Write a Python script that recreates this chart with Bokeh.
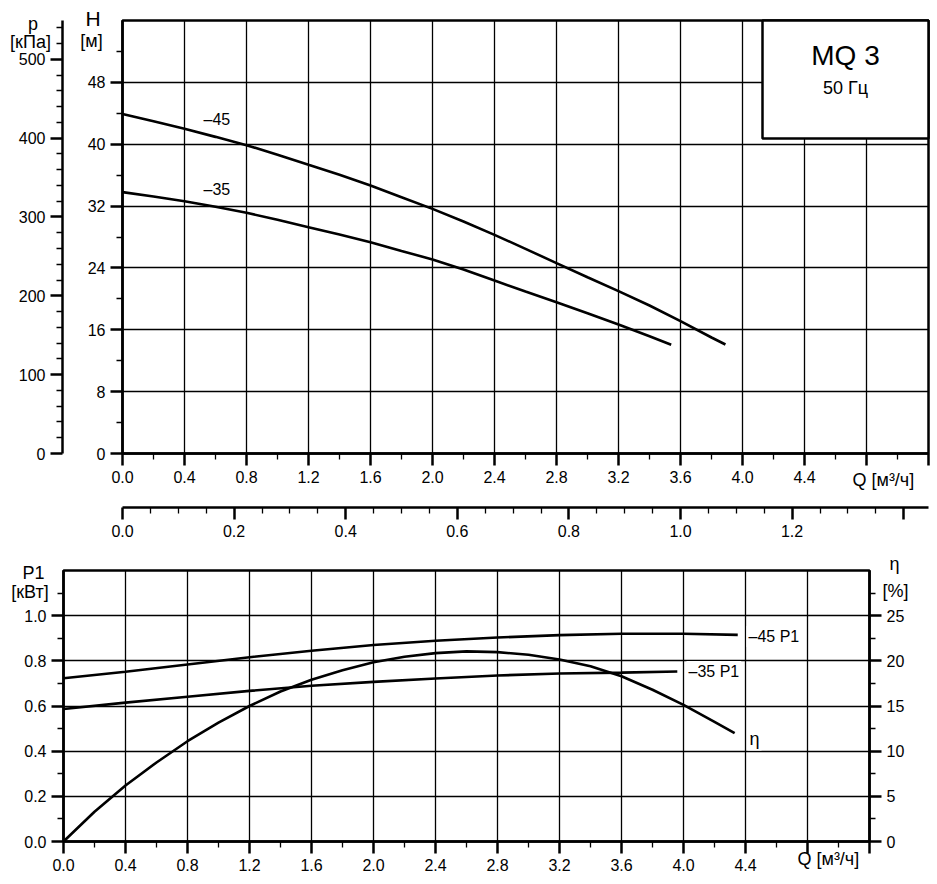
from bokeh.plotting import figure
from bokeh.models import (Range1d, LinearAxis, FixedTicker, Label, BoxAnnotation,
                          NumeralTickFormatter, Grid)
from bokeh.embed import file_html
from bokeh.resources import INLINE

# ---------------- data ----------------
# Top chart: head H [m] vs flow Q [m3/h]
q_h45 = [0.0, 0.2, 0.4, 0.6, 0.8, 1.0, 1.2, 1.4, 1.6, 1.8, 2.0, 2.2, 2.4, 2.6, 2.8,
         3.0, 3.2, 3.4, 3.6, 3.8, 3.89]
h_45 = [43.9, 42.98, 41.99, 40.95, 39.88, 38.63, 37.33, 36.04, 34.66, 33.15, 31.64,
        30.0, 28.28, 26.47, 24.62, 22.8, 21.0, 19.14, 17.11, 15.0, 14.1]
q_h35 = [0.0, 0.2, 0.4, 0.6, 0.8, 1.0, 1.2, 1.4, 1.6, 1.8, 2.0, 2.2, 2.4, 2.6, 2.8,
         3.0, 3.2, 3.4, 3.54]
h_35 = [33.8, 33.24, 32.63, 31.9, 31.13, 30.22, 29.27, 28.32, 27.33, 26.2, 25.09,
        23.8, 22.37, 20.95, 19.57, 18.15, 16.68, 15.17, 14.06]

# Bottom chart: power P1 [kW] and efficiency eta [%]
q_p45 = [0.0, 0.4, 0.8, 1.2, 1.6, 2.0, 2.4, 2.8, 3.2, 3.6, 4.0, 4.35]
p1_45 = [0.723, 0.752, 0.784, 0.816, 0.845, 0.870, 0.889, 0.903, 0.914, 0.920, 0.920, 0.915]
q_p35 = [0.0, 0.4, 0.8, 1.2, 1.6, 2.0, 2.4, 2.8, 3.2, 3.6, 3.96]
p1_35 = [0.587, 0.615, 0.641, 0.667, 0.690, 0.707, 0.722, 0.735, 0.744, 0.748, 0.753]
q_eta = [0.0, 0.2, 0.4, 0.6, 0.8, 1.0, 1.2, 1.4, 1.6, 1.8, 2.0, 2.2, 2.4, 2.6, 2.8,
         3.0, 3.2, 3.4, 3.6, 3.8, 4.0, 4.2, 4.33]
eta = [0.0, 3.3, 6.2, 8.75, 11.1, 13.15, 15.0, 16.6, 17.9, 18.95, 19.85, 20.45, 20.85,
       21.05, 20.96, 20.67, 20.15, 19.4, 18.3, 16.8, 15.13, 13.25, 12.0]

# Axis extents and ticks
Q_MAX = 5.2
H_MAX = 56
P1_MAX = 1.2
ETA_MAX = 30
q_major = [round(0.4 * i, 1) for i in range(14)]            # 0.0 .. 5.2
q_minor = [round(0.2 + 0.4 * i, 1) for i in range(13)]      # 0.2 .. 5.0
q_grid = [round(0.4 * i, 1) for i in range(1, 13)]          # 0.4 .. 4.8
q_blank = [4.8, 5.2]
ls_major = [round(0.2 * i, 1) for i in range(8)]            # 0.0 .. 1.4
ls_minor = [round(0.05 * i, 2) for i in range(29) if i % 4 != 0]
ls_blank = [1.4]
h_major = [0, 8, 16, 24, 32, 40, 48]
h_minor = [4, 12, 20, 28, 36, 44, 52]
kpa_major = [0, 100, 200, 300, 400, 500]
kpa_minor = [v for v in range(20, 560, 20) if v % 100 != 0]
p1_major = [0.0, 0.2, 0.4, 0.6, 0.8, 1.0]
p1_minor = [0.1, 0.3, 0.5, 0.7, 0.9, 1.1]
p1_grid = [0.2, 0.4, 0.6, 0.8, 1.0]
eta_major = [0, 5, 10, 15, 20, 25]
eta_minor = [2.5, 7.5, 12.5, 17.5, 22.5, 27.5]

FONT = "Liberation Sans"
K = "black"
KPA_PER_M = 9.80665
M3H_PER_LS = 3.6

# ---------------- page geometry (pixels) ----------------
W, HT = 936, 883
TOP_L, TOP_R, TOP_T, TOP_B = 122, 928, 20, 453     # top chart frame
BOT_L, BOT_R, BOT_T, BOT_B = 63, 869, 570, 841     # bottom chart frame
LS_AXIS_Y = 507                                     # l/s axis line
KPA_AXIS_X = 62                                     # kPa axis line

tq_k = (TOP_R - TOP_L) / Q_MAX
th_k = (TOP_B - TOP_T) / H_MAX
bq_k = (BOT_R - BOT_L) / Q_MAX
bp_k = (BOT_B - BOT_T) / P1_MAX


def tq(px): return (px - TOP_L) / tq_k
def th(py): return (TOP_B - py) / th_k
def bq(px): return (px - BOT_L) / bq_k
def bp(py): return (BOT_B - py) / bp_k


p = figure(width=W, height=HT, title=None,
           x_range=Range1d(tq(0), tq(W)), y_range=Range1d(th(HT), th(0)),
           output_backend="svg", toolbar_location=None,
           x_axis_location=None, y_axis_location=None, min_border=0,
           outline_line_color=None, background_fill_color="white", border_fill_color="white")
p.extra_x_ranges = {"qb": Range1d(bq(0), bq(W)),
                    "ls": Range1d(tq(0) / M3H_PER_LS, tq(W) / M3H_PER_LS)}
p.extra_y_ranges = {"kpa": Range1d(th(HT) * KPA_PER_M, th(0) * KPA_PER_M),
                    "p1": Range1d(bp(HT), bp(0)),
                    "eta": Range1d(bp(HT) * ETA_MAX / P1_MAX, bp(0) * ETA_MAX / P1_MAX)}
for g in p.xgrid + p.ygrid:
    g.visible = False


def styled_axis(**kw):
    ax = LinearAxis(**kw)
    ax.axis_line_color = K
    ax.axis_line_width = 2.5
    ax.major_tick_line_color = K
    ax.major_tick_line_width = 2.5
    ax.major_tick_out = 12
    ax.major_tick_in = 0
    ax.minor_tick_line_color = K
    ax.minor_tick_line_width = 1.3
    ax.minor_tick_out = 6
    ax.minor_tick_in = 0
    ax.major_label_text_font = FONT
    ax.major_label_text_font_size = "16px"
    ax.major_label_text_color = K
    ax.major_label_standoff = 5
    return ax


def add_grid(dim, ticks, cross, **kw):
    g = Grid(dimension=dim, ticker=FixedTicker(ticks=ticks), cross_bounds=cross,
             grid_line_color=K, grid_line_width=1.3, **kw)
    p.add_layout(g)


def add_text(x, y, text, size, align="left", baseline="middle", bg=False, **kw):
    lab = Label(x=x, y=y, text=text, text_font=FONT, text_font_size=size,
                text_align=align, text_baseline=baseline, text_color=K, **kw)
    if bg:
        lab.background_fill_color = "white"
        lab.padding = 2
    p.add_layout(lab)


def frame_box(left, right, bottom, top, fill=False, **kw):
    p.add_layout(BoxAnnotation(left=left, right=right, bottom=bottom, top=top,
                               fill_color="white", fill_alpha=1.0 if fill else 0.0,
                               line_color=K, line_alpha=1.0, line_width=2.5, **kw))


# ---------------- top chart ----------------
add_grid(0, q_grid, (0, H_MAX))
add_grid(1, h_major[1:], (0, Q_MAX))

p.line(q_h45, h_45, line_color=K, line_width=2.6)
p.line(q_h35, h_35, line_color=K, line_width=2.6)

qax = styled_axis(fixed_location=0, bounds=(0, Q_MAX),
                  ticker=FixedTicker(ticks=q_major, minor_ticks=q_minor),
                  formatter=NumeralTickFormatter(format="0.0"))
qax.major_label_overrides = {v: "" for v in q_blank}
p.add_layout(qax, "below")

lsax = styled_axis(x_range_name="ls", fixed_location=th(LS_AXIS_Y), bounds=(0, Q_MAX / M3H_PER_LS),
                   ticker=FixedTicker(ticks=ls_major, minor_ticks=ls_minor),
                   formatter=NumeralTickFormatter(format="0.0"))
lsax.major_label_overrides = {v: "" for v in ls_blank}
p.add_layout(lsax, "below")

hax = styled_axis(fixed_location=0, bounds=(0, H_MAX),
                  ticker=FixedTicker(ticks=h_major, minor_ticks=h_minor))
p.add_layout(hax, "left")

pax = styled_axis(y_range_name="kpa", fixed_location=tq(KPA_AXIS_X), bounds=(0, H_MAX * KPA_PER_M),
                  ticker=FixedTicker(ticks=kpa_major, minor_ticks=kpa_minor))
p.add_layout(pax, "left")

frame_box(0, Q_MAX, 0, H_MAX)
frame_box(tq(762), Q_MAX, th(138), H_MAX, fill=True)
add_text(tq(845), th(55), "MQ 3", "28px", align="center")
add_text(tq(845), th(87), "50 Гц", "18px", align="center")
add_text(tq(203), th(119), "\u201345", "16px")
add_text(tq(203), th(189), "\u201335", "16px")

add_text(tq(92.5), th(18), "H", "21px", align="center", baseline="alphabetic")
add_text(tq(91), th(40), "[м]", "18px", align="center")
add_text(tq(32.5), th(23), "p", "18px", align="center", baseline="alphabetic")
add_text(tq(30), th(41), "[кПа]", "18px", align="center")
add_text(tq(852), th(479), "Q [м³/ч]", "18px")

# ---------------- bottom chart ----------------
B = dict(x_range_name="qb", y_range_name="p1")
add_grid(0, q_grid, (0, P1_MAX), **B)
add_grid(1, p1_grid, (0, Q_MAX), **B)

p.line(q_p45, p1_45, line_color=K, line_width=2.6, **B)
p.line(q_p35, p1_35, line_color=K, line_width=2.6, **B)
p.line(q_eta, eta, line_color=K, line_width=2.6, x_range_name="qb", y_range_name="eta")

bqax = styled_axis(fixed_location=0, bounds=(0, Q_MAX),
                   ticker=FixedTicker(ticks=q_major, minor_ticks=q_minor),
                   formatter=NumeralTickFormatter(format="0.0"), **B)
bqax.major_label_overrides = {v: "" for v in q_blank}
p.add_layout(bqax, "below")

p1ax = styled_axis(fixed_location=0, bounds=(0, P1_MAX),
                   ticker=FixedTicker(ticks=p1_major, minor_ticks=p1_minor),
                   formatter=NumeralTickFormatter(format="0.0"), **B)
p.add_layout(p1ax, "left")

etax = styled_axis(x_range_name="qb", y_range_name="eta", fixed_location=Q_MAX, bounds=(0, ETA_MAX),
                   ticker=FixedTicker(ticks=eta_major, minor_ticks=eta_minor))
p.add_layout(etax, "right")

frame_box(0, Q_MAX, 0, P1_MAX, **B)

add_text(bq(746), bp(636), "\u201345 P1", "16px", bg=True, **B)
add_text(bq(686), bp(671), "\u201335 P1", "16px", bg=True, **B)
add_text(bq(747), bp(738), "η", "18px", bg=True, **B)

add_text(bq(33), bp(572), "P1", "18px", align="center", baseline="alphabetic", **B)
add_text(bq(29.5), bp(591), "[кВт]", "18px", align="center", **B)
add_text(bq(894), bp(563), "η", "18px", align="center", baseline="alphabetic", **B)
add_text(bq(895), bp(590), "[%]", "18px", align="center", **B)
add_text(bq(797), bp(858), "Q [м³/ч]", "18px", **B)

open("out.html", "w").write(file_html(p, INLINE))
